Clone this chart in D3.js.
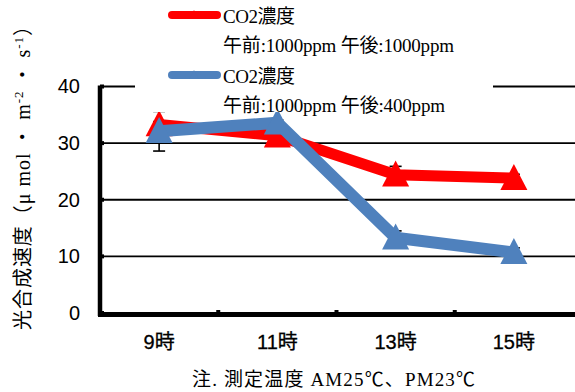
<!DOCTYPE html>
<html>
<head>
<meta charset="utf-8">
<script src="https://cdn.jsdelivr.net/npm/d3@7/dist/d3.min.js"></script>
<style>
  html, body { margin: 0; padding: 0; background: #fff; }
  svg { display: block; }
</style>
</head>
<body>
<div id="chart"></div>
<script>
// Photosynthetic rate by time of day under two CO2 regimes
const categories = ["9時", "11時", "13時", "15時"];
const highCO2 = [33.3, 31.3, 24.4, 23.8];     // 午前:1000ppm 午後:1000ppm
const highCO2Err = [0.5, 0.5, 1.5, 0.7];
const lowPM = [32.1, 33.6, 13.3, 10.7];       // 午前:1000ppm 午後:400ppm
const lowPMErr = [3.5, 0.5, 1.2, 0.8];
const yTicks = [0, 10, 20, 30, 40];

const W = 575, H = 392;
const svg = d3.select("#chart").append("svg").attr("width", W).attr("height", H);

const x = d3.scaleBand().domain(categories).range([100, 573]);
const y = d3.scaleLinear().domain([0, 40]).range([313, 86.5]);

const serif = "'Liberation Serif', 'Noto Sans CJK JP', serif";
const sans = "'Liberation Sans', Arial, 'Noto Sans CJK JP', sans-serif";

// horizontal gridlines
svg.append("g").selectAll("line").data(yTicks.filter(d => d > 0)).join("line")
  .attr("x1", 100).attr("x2", W)
  .attr("y1", d => y(d)).attr("y2", d => y(d))
  .attr("stroke", "#000").attr("stroke-width", 1.8);

// y axis
const yAxis = svg.append("g").attr("transform", "translate(100,0)")
  .call(d3.axisLeft(y).tickValues(yTicks).tickSize(0).tickPadding(20));
yAxis.select(".domain").remove();
yAxis.selectAll("text").attr("font-family", sans).attr("font-size", 20)
  .attr("fill", "#000").attr("x", -20);
svg.append("line").attr("x1", 100).attr("x2", 100)
  .attr("y1", y(40) - 1).attr("y2", y(0) + 3)
  .attr("stroke", "#000").attr("stroke-width", 4.5);
svg.append("g").selectAll("rect").data(yTicks).join("rect")
  .attr("x", 100).attr("y", d => y(d) - 2).attr("width", 4).attr("height", 4)
  .attr("fill", "#000");

// x axis
const xAxis = svg.append("g").attr("transform", `translate(0,${y(0)})`)
  .call(d3.axisBottom(x).tickSize(0).tickPadding(22));
xAxis.select(".domain").remove();
xAxis.selectAll("text").attr("font-family", sans).attr("font-size", 20)
  .attr("fill", "#000").attr("stroke", "#000").attr("stroke-width", 0.3);
svg.append("line").attr("x1", 98).attr("x2", W)
  .attr("y1", y(0) + 1.5).attr("y2", y(0) + 1.5)
  .attr("stroke", "#000").attr("stroke-width", 5);
svg.append("g").selectAll("rect").data(categories.slice(1)).join("rect")
  .attr("x", d => x(d) - 2).attr("y", y(0) - 3).attr("width", 4).attr("height", 4)
  .attr("fill", "#000");

// error bars
function errorBars(vals, errs) {
  const g = svg.append("g").attr("stroke", "#000").attr("stroke-width", 1.6);
  vals.forEach((v, i) => {
    const cx = x(categories[i]) + x.bandwidth() / 2;
    g.append("line").attr("x1", cx).attr("x2", cx)
      .attr("y1", y(v - errs[i])).attr("y2", y(v + errs[i]));
    [v - errs[i], v + errs[i]].forEach(e => {
      g.append("line").attr("x1", cx - 6).attr("x2", cx + 6)
        .attr("y1", y(e)).attr("y2", y(e));
    });
  });
}
errorBars(highCO2, highCO2Err);
errorBars(lowPM, lowPMErr);

const tri = (s) => `M0,${-s * 0.55}L${s * 0.52},${s * 0.45}L${-s * 0.52},${s * 0.45}Z`;

function series(vals, color, width) {
  const line = d3.line()
    .x((d, i) => x(categories[i]) + x.bandwidth() / 2)
    .y(d => y(d));
  svg.append("path").datum(vals).attr("d", line)
    .attr("fill", "none").attr("stroke", color).attr("stroke-width", width)
    .attr("stroke-linejoin", "miter");
  svg.append("g").selectAll("path").data(vals).join("path")
    .attr("transform", (d, i) => `translate(${x(categories[i]) + x.bandwidth() / 2},${y(d)})`)
    .attr("d", tri(26)).attr("fill", color);
}
series(highCO2, "#ff0000", 11);
series(lowPM, "#4f81bd", 12);

// legend
const legend = svg.append("g");
legend.append("rect").attr("x", 135).attr("y", 0).attr("width", 358).attr("height", 112)
  .attr("fill", "#fff");
const legendItems = [
  { color: "#ff0000", label: "CO2濃度", sub: "午前:1000ppm 午後:1000ppm", y: 15, w: 231 },
  { color: "#4f81bd", label: "CO2濃度", sub: "午前:1000ppm 午後:400ppm", y: 75, w: 222 }
];
legendItems.forEach(it => {
  legend.append("line").attr("x1", 172).attr("x2", 217)
    .attr("y1", it.y).attr("y2", it.y)
    .attr("stroke", it.color).attr("stroke-width", 8).attr("stroke-linecap", "round");
  legend.append("path").attr("transform", `translate(194,${it.y})`)
    .attr("d", tri(9)).attr("fill", it.color);
  legend.append("text").attr("x", 223).attr("y", it.y + 8)
    .attr("font-family", serif).attr("font-size", 19).attr("fill", "#000")
    .attr("textLength", 72).attr("lengthAdjust", "spacing")
    .text(it.label);
  legend.append("text").attr("x", 223).attr("y", it.y + 37)
    .attr("font-family", serif).attr("font-size", 19).attr("fill", "#000")
    .attr("textLength", it.w).attr("lengthAdjust", "spacing")
    .text(it.sub);
});

// y-axis title
const yt = svg.append("text")
  .attr("transform", "translate(30,173) rotate(-90)")
  .attr("text-anchor", "middle")
  .attr("textLength", 314).attr("lengthAdjust", "spacing")
  .attr("font-family", serif).attr("font-size", 20).attr("fill", "#000");
yt.append("tspan").text("光合成速度（μ mol ・ m");
yt.append("tspan").attr("baseline-shift", "super").attr("font-size", 13).text("-2");
yt.append("tspan").text(" ・ s");
yt.append("tspan").attr("baseline-shift", "super").attr("font-size", 13).text("-1");
yt.append("tspan").text("）");

// footnote
svg.append("text").attr("x", 192).attr("y", 386)
  .attr("textLength", 283).attr("lengthAdjust", "spacing")
  .attr("font-family", serif).attr("font-size", 19).attr("fill", "#000")
  .text("注. 測定温度 AM25℃、PM23℃");
</script>
</body>
</html>
